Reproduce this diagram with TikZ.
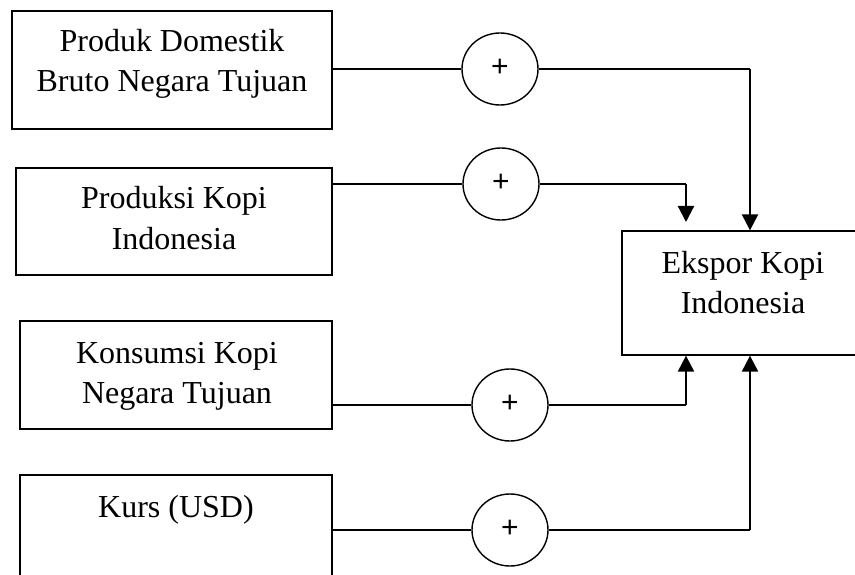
\documentclass[tikz,border=0pt]{standalone}
\usepackage{fontspec}
\setmainfont{Liberation Serif}
\newfontfamily\plusfont{Liberation Sans}
\usetikzlibrary{arrows.meta,shapes.geometric}
\begin{document}
\begin{tikzpicture}[x=1pt,y=-1pt,
  box/.style={draw,line width=1.3pt,inner sep=0pt},
  lbl/.style={align=center,font=\fontsize{32}{40}\selectfont,inner sep=0pt,anchor=base},
  sumnode/.style={draw,line width=1.4pt,ellipse,minimum width=76pt,minimum height=72pt,inner sep=0pt,font=\plusfont\fontsize{30}{32}\selectfont},
  thin line/.style={line width=1.3pt},
  arr/.style={line width=2.2pt,-{Triangle[width=16pt,length=16pt]}}]
\clip (0,0) rectangle (855,575);
\fill[white] (0,0) rectangle (855,575);
% boxes
\node[box,minimum width=320pt,minimum height=118pt] (b1) at (172,70) {};
\node[box,minimum width=316pt,minimum height=107pt] (b2) at (174,221.5) {};
\node[box,minimum width=312pt,minimum height=108pt] (b3) at (176,375) {};
\node[box,minimum width=312pt,minimum height=112pt] (b4) at (176,531) {};
\node[box,minimum width=242pt,minimum height=124pt] (ek) at (743,293) {};
% labels (anchored at the baseline of their last line)
\node[lbl] (t1) at (172,92) {Produk Domestik\\Bruto Negara Tujuan};
\node[lbl] (t2) at (174,249) {Produksi Kopi\\Indonesia};
\node[lbl] (t3) at (177,403) {Konsumsi Kopi\\Negara Tujuan};
\node[lbl] (t4) at (176,517) {Kurs (USD)};
\node[lbl] (te) at (743,313) {Ekspor Kopi\\Indonesia};
% sum circles
\node[sumnode] (c1) at (500,69) {\raisebox{3pt}{+}};
\node[sumnode] (c2) at (501,184) {\raisebox{2pt}{+}};
\node[sumnode] (c3) at (510,405) {\raisebox{2pt}{+}};
\node[sumnode] (c4) at (510,530) {\raisebox{2pt}{+}};
% corner points
\coordinate (k1) at (750,69);
\coordinate (k2) at (686,184);
\coordinate (k3) at (686,405);
\coordinate (k4) at (750,530);
\coordinate (e2) at (686,222);
% connectors
\draw[thin line] (c1 -| b1.east) -- (c1.west);
\draw[thin line] (c2 -| b2.east) -- (c2.west);
\draw[thin line] (c3 -| b3.east) -- (c3.west);
\draw[thin line] (c4 -| b4.east) -- (c4.west);
\draw[thin line] (c1.east) -- (k1);
\draw[thin line] (c2.east) -- (k2);
\draw[thin line] (c3.east) -- (k3);
\draw[thin line] (c4.east) -- (k4);
\draw[arr] (k1) -- (k1 |- ek.north);
\draw[arr] (k2) -- (e2);
\draw[arr] (k3) -- (k3 |- ek.south);
\draw[arr] (k4) -- (k4 |- ek.south);
\end{tikzpicture}
\end{document}
